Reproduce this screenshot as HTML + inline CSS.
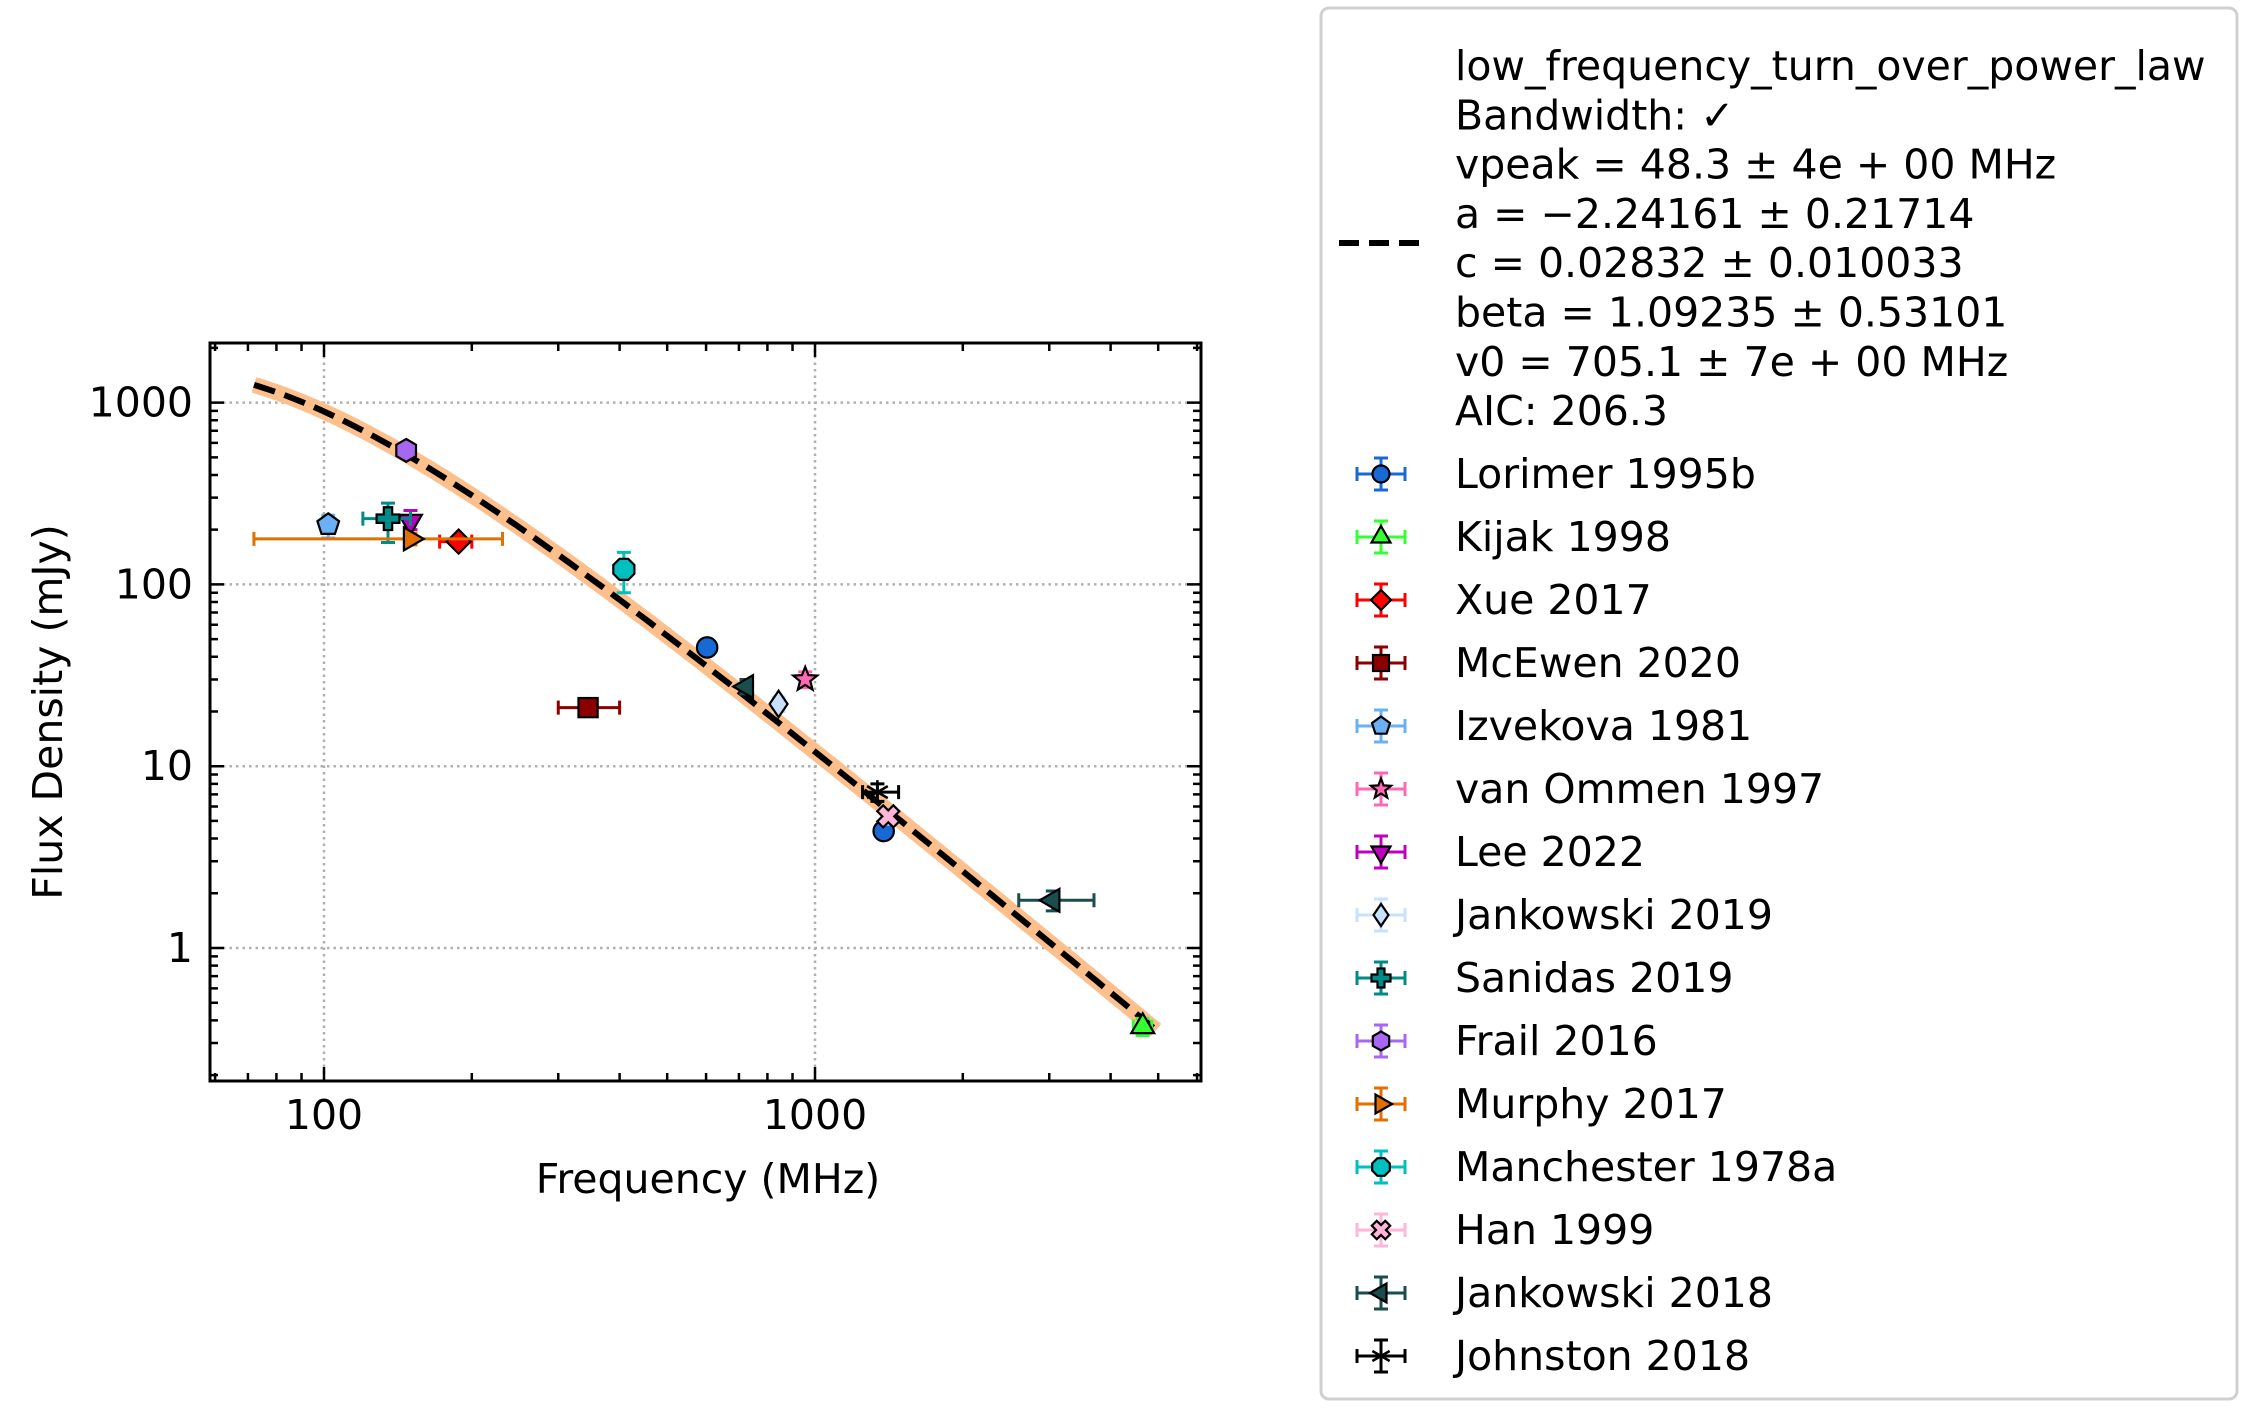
<!DOCTYPE html>
<html><head><meta charset="utf-8"><style>
html,body{margin:0;padding:0;background:#fff;}
svg{display:block;font-family:"DejaVu Sans","Liberation Sans",sans-serif;}
</style></head><body>
<svg id="chart" width="2263" height="1423" viewBox="0 0 2263 1423" xmlns="http://www.w3.org/2000/svg">
<g id="grid"></g>
<g id="fit"></g>
<g id="points"></g>
<rect x="210" y="343" width="991" height="738" fill="none" stroke="#000" stroke-width="3"/>
<g id="ticks"></g>
<text x="708" y="1193" font-size="41" text-anchor="middle">Frequency (MHz)</text>
<text transform="translate(62,712) rotate(-90)" font-size="41" text-anchor="middle">Flux Density (mJy)</text>
<g id="legend">
<rect x="1328" y="8" width="916" height="1391" rx="8" fill="#fff" stroke="#d0d0d0" stroke-width="3"/>
</g>
</svg>
<script>
const names=["Lorimer 1995b","Kijak 1998","Xue 2017","McEwen 2020","Izvekova 1981","van Ommen 1997","Lee 2022","Jankowski 2019","Sanidas 2019","Frail 2016","Murphy 2017","Manchester 1978a","Han 1999","Jankowski 2018","Johnston 2018"];
const colors=["#1769d6","#33ff33","#ff0000","#8b0000","#6ab0f5","#ff69b4","#c000c0","#c6e2ff","#008b8b","#a867f0","#e07000","#00bfbf","#ffb6d9","#1a4d4d","#000000"];
const markers=["circle","triUp","diamond","square","pentagon","star","triDown","thinDiamond","plus","hexagon","triRight","octagon","x","triLeft","asterisk"];
const freqs=[[603,1380],[4650],[188],[345],[102],[955],[150],[843],[135],[147],[150],[408],[1410],[725,3050],[1340]];
const fluxes=[[45,4.4],[0.37],[172],[21],[213],[30],[222],[22],[230],[546],[178],[121],[5.3],[27.4,1.83],[7.2]];
const fLo=[[590,1350],[4450],[172],[300],[100],[945],[148],[833],[120],[142],[72],[404],[1380],[712,2600],[1250]];
const fHi=[[615,1410],[4850],[200],[400],[104],[965],[152],[853],[150],[152],[231],[412],[1440],[738,3700],[1480]];
const sLo=[[42,4.0],[0.33],[162],[19],[180],[27],[200],[20],[170],[505],[165],[90],[4.8],[25,1.6],[6.4]];
const sHi=[[48,4.8],[0.41],[182],[23],[240],[33],[255],[24],[280],[590],[191],[150],[5.8],[30,2.06],[8.0]];
const fitParams={vpeak:48.3,a:-2.24161,c:0.02832,beta:1.09235,v0:705.1};
const fitRange=[72,4950];
const xTicks=[100,1000], xTickLabels=["100","1000"];
const yTicks=[1,10,100,1000], yTickLabels=["1","10","100","1000"];
const legendFit=["low_frequency_turn_over_power_law","Bandwidth: \u2713","vpeak = 48.3 \u00b1 4e + 00 MHz","a = \u22122.24161 \u00b1 0.21714","c = 0.02832 \u00b1 0.010033","beta = 1.09235 \u00b1 0.53101","v0 = 705.1 \u00b1 7e + 00 MHz","AIC: 206.3"];

const NS="http://www.w3.org/2000/svg";
const L=210,R=1201,T=343,B=1081;
const xDec=491;
function X(f){return 324+(Math.log10(f)-2)*xDec;}
function Y(s){return 948-Math.log10(s)*181.8;}
function el(tag,attrs,parent){const e=document.createElementNS(NS,tag);for(const k in attrs)e.setAttribute(k,attrs[k]);parent.appendChild(e);return e;}

const grid=document.getElementById('grid'), ticks=document.getElementById('ticks');
xTicks.forEach((v,i)=>{const x=X(v);
 const g=el('line',{x1:x,x2:x,y1:T,y2:B,stroke:'#b0b0b0','stroke-width':2.5,'stroke-dasharray':'2.5,4'},grid);
 
 
 const t=el('text',{x:x,y:1129,'font-size':41,'text-anchor':'middle'},ticks);t.textContent=xTickLabels[i];
 
 
});
yTicks.forEach((v,i)=>{const y=Y(v);
 const g=el('line',{x1:L,x2:R,y1:y,y2:y,stroke:'#b0b0b0','stroke-width':2.5,'stroke-dasharray':'2.5,4'},grid);
 
 
 const t=el('text',{x:193,y:y+14,'font-size':41,'text-anchor':'end'},ticks);t.textContent=yTickLabels[i];
 
 
});
let td='';
for(let e=1;e<=3;e++)for(let m=1;m<10;m++){const f=m*Math.pow(10,e);const x=X(f);if(x<L+1||x>R-1)continue;const len=m===1?14:8;td+=`M${x},${B}v${-len}M${x},${T}v${len}`;}
for(let e=-1;e<=3;e++)for(let m=1;m<10;m++){const s=m*Math.pow(10,e);const y=Y(s);if(y<T+1||y>B-1)continue;const len=m===1?14:8;td+=`M${L},${y}h${len}M${R},${y}h${-len}`;}
const tp=el('path',{d:td,stroke:'#000','stroke-width':2.5,fill:'none'},ticks);



function model(v){const p=fitParams;return 1000*p.c*Math.pow(v/p.v0,p.a)*Math.exp(p.a/p.beta*Math.pow(v/p.vpeak,-p.beta));}
let pd='';const N=200;
for(let i=0;i<=N;i++){const lv=Math.log10(fitRange[0])+(Math.log10(fitRange[1])-Math.log10(fitRange[0]))*i/N;const v=Math.pow(10,lv);pd+=(i?'L':'M')+X(v).toFixed(1)+','+Y(model(v)).toFixed(1);}
const fit=document.getElementById('fit');
const band=el('path',{d:pd,stroke:'#fdbf8c','stroke-width':16,fill:'none'},fit);


const fl=el('path',{d:pd,stroke:'#000','stroke-width':6,fill:'none','stroke-dasharray':'22,10'},fit);



function marker(type,cx,cy,r,color,parent){
 const st={fill:color,stroke:'#000','stroke-width':2.2};
 function poly(n,rot,rr){let p=[];for(let k=0;k<n;k++){const a=rot+k*2*Math.PI/n;p.push((cx+rr*Math.cos(a)).toFixed(1)+','+(cy+rr*Math.sin(a)).toFixed(1));}return el('polygon',Object.assign({points:p.join(' ')},st),parent);}
 switch(type){
  case 'circle':return el('circle',Object.assign({cx,cy,r:r*0.85},st),parent);
  case 'square':return el('rect',Object.assign({x:cx-r*0.8,y:cy-r*0.8,width:r*1.6,height:r*1.6},st),parent);
  case 'triUp':return poly(3,-Math.PI/2,r*1.1);
  case 'triDown':return poly(3,Math.PI/2,r*1.1);
  case 'triRight':return poly(3,0,r*1.1);
  case 'triLeft':return poly(3,Math.PI,r*1.1);
  case 'diamond':return poly(4,0,r);
  case 'thinDiamond':return el('polygon',Object.assign({points:`${cx},${cy-r*1.1} ${cx+r*0.75},${cy} ${cx},${cy+r*1.1} ${cx-r*0.75},${cy}`},st),parent);
  case 'pentagon':return poly(5,-Math.PI/2,r*0.95);
  case 'hexagon':return poly(6,-Math.PI/2,r*0.95);
  case 'octagon':return poly(8,Math.PI/8,r*0.95);
  case 'star':{let p=[];for(let k=0;k<10;k++){const a=-Math.PI/2+k*Math.PI/5;const rr=k%2?r*0.45:r*1.05;p.push((cx+rr*Math.cos(a)).toFixed(1)+','+(cy+rr*Math.sin(a)).toFixed(1));}return el('polygon',Object.assign({points:p.join(' ')},st),parent);}
  case 'plus':{const a=r*0.95,b=r*0.35;return el('polygon',Object.assign({points:`${cx-b},${cy-a} ${cx+b},${cy-a} ${cx+b},${cy-b} ${cx+a},${cy-b} ${cx+a},${cy+b} ${cx+b},${cy+b} ${cx+b},${cy+a} ${cx-b},${cy+a} ${cx-b},${cy+b} ${cx-a},${cy+b} ${cx-a},${cy-b} ${cx-b},${cy-b}`},st),parent);}
  case 'x':{const g=el('g',{transform:`rotate(45 ${cx} ${cy})`},parent);const a=r*0.95,b=r*0.35;el('polygon',Object.assign({points:`${cx-b},${cy-a} ${cx+b},${cy-a} ${cx+b},${cy-b} ${cx+a},${cy-b} ${cx+a},${cy+b} ${cx+b},${cy+b} ${cx+b},${cy+a} ${cx-b},${cy+a} ${cx-b},${cy+b} ${cx-a},${cy+b} ${cx-a},${cy-b} ${cx-b},${cy-b}`},st),g);return g;}
  case 'asterisk':{const g=el('g',{stroke:color,'stroke-width':2.5},parent);for(let k=0;k<3;k++){const a=Math.PI/2+k*Math.PI/3;el('line',{x1:cx-r*Math.cos(a),y1:cy-r*Math.sin(a),x2:cx+r*Math.cos(a),y2:cy+r*Math.sin(a)},g);}return g;}
 }
}
function errbar(x1,x2,y1,y2,cx,cy,color,parent){
 const c=7;
 const d=`M${x1},${cy}H${x2}M${x1},${cy-c}v${2*c}M${x2},${cy-c}v${2*c}M${cx},${y1}V${y2}M${cx-c},${y1}h${2*c}M${cx-c},${y2}h${2*c}`;
 return el('path',{d,stroke:color,'stroke-width':3,fill:'none'},parent);
}
const pts=document.getElementById('points');
names.forEach((n,i)=>{
 const g=el('g',{},pts);
 
 
 freqs[i].forEach((f,j)=>{
  const cx=X(f),cy=Y(fluxes[i][j]);
  const eb=errbar(X(fLo[i][j]),X(fHi[i][j]),Y(sHi[i][j]),Y(sLo[i][j]),cx,cy,colors[i],g);
  
  
  const m=marker(markers[i],cx,cy,12,colors[i],g);
  
  
 });
});

const lg=document.getElementById('legend');
lg.setAttribute('transform','translate(-7,0)');
const hx=1388, tx=1462;
legendFit.forEach((t,i)=>{const e=el('text',{x:tx,y:80+i*49.3,'font-size':41},lg);e.textContent=t;
 
 
});
const dh=el('line',{x1:1346,x2:1430,y1:243,y2:243,stroke:'#000','stroke-width':6,'stroke-dasharray':'20,10'},lg);


names.forEach((n,i)=>{
 const cy=474+i*63.0;
 const g=el('g',{},lg);
 
 
 errbar(hx-24,hx+24,cy-16,cy+16,hx,cy,colors[i],g);
 marker(markers[i],hx,cy,10,colors[i],g);
 const t=el('text',{x:tx,y:cy+14,'font-size':41},g);t.textContent=n;
});
</script>
</body></html>
